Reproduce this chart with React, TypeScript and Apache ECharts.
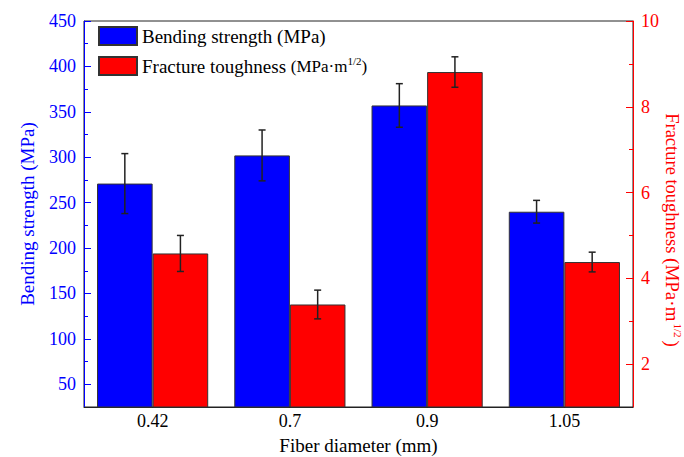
import React, { useEffect, useRef } from "react";
import * as echarts from "echarts";

const categories = ["0.42", "0.7", "0.9", "1.05"];
const bendingStrength = [271, 302, 357, 240];
const bendingError = [33, 28, 24, 12.5];
const fractureToughness = [4.58, 3.39, 8.81, 4.38];
const toughnessError = [0.42, 0.335, 0.355, 0.23];
const leftTicks = [50, 100, 150, 200, 250, 300, 350, 400, 450];
const leftMinorTicks = [75, 125, 175, 225, 275, 325, 375, 425];
const rightTicks = [2, 4, 6, 8, 10];
const rightMinorTicks = [3, 5, 7, 9];

const FONT = "'Liberation Serif', 'Times New Roman', serif";
const BLUE = "#0000ff";
const RED = "#ff0000";
const GAP = 0.19;

function errorRender(side: number) {
  return (params: any, api: any) => {
    const x = api.value(0);
    const lo = api.coord([x, api.value(1)]);
    const hi = api.coord([x, api.value(2)]);
    const band = api.size([1, 0])[0];
    const barW = (band * (1 - GAP)) / 2;
    const cx = lo[0] + (side * barW) / 2;
    const cap = 3.5;
    const style = { stroke: "#222", lineWidth: 1.5 };
    return {
      type: "group",
      children: [
        { type: "line", shape: { x1: cx, y1: lo[1], x2: cx, y2: hi[1] }, style },
        { type: "line", shape: { x1: cx - cap, y1: lo[1], x2: cx + cap, y2: lo[1] }, style },
        { type: "line", shape: { x1: cx - cap, y1: hi[1], x2: cx + cap, y2: hi[1] }, style },
      ],
    };
  };
}

const supRich = {
  t: { fontFamily: FONT, fontSize: 19, lineHeight: 22 },
  p: { fontFamily: FONT, fontSize: 17, lineHeight: 22 },
  s: { fontFamily: FONT, fontSize: 11, lineHeight: 11, verticalAlign: "top" },
};

const nameRich = {
  t: { fontFamily: FONT, fontSize: 18.5, lineHeight: 22, color: RED },
  p: { fontFamily: FONT, fontSize: 19, lineHeight: 22, color: RED },
  s: { fontFamily: FONT, fontSize: 11, lineHeight: 11, verticalAlign: "top", color: RED, padding: [0, 3, 0, 2] },
};

export default function App() {
  const ref = useRef<HTMLDivElement>(null);
  useEffect(() => {
    if (!ref.current) return;
    const chart = echarts.init(ref.current, null, { renderer: "svg" });
    const minorAxis = (pos: string, min: number, max: number, interval: number, vals: number[], color: string) => ({
      type: "value",
      position: pos,
      offset: 0,
      min,
      max,
      interval,
      axisLine: { show: false },
      axisLabel: { show: false },
      splitLine: { show: false },
      axisTick: { show: true, inside: true, length: 4, customValues: vals, lineStyle: { color, width: 1 } },
    });
    const labelRich = (color: string) => ({
      fontFamily: FONT,
      fontSize: 18,
      color,
      rich: { n: { fontFamily: FONT, fontSize: 18, color } },
    });
    chart.setOption({
      animation: false,
      backgroundColor: "#ffffff",
      textStyle: { fontFamily: FONT },
      grid: {
        left: 84,
        right: 51,
        top: 21,
        bottom: 50,
        outerBoundsMode: "none",
        containLabel: false,
        show: true,
        borderColor: "#222",
        borderWidth: 1,
        backgroundColor: "transparent",
      },
      legend: {
        orient: "vertical",
        left: 98,
        top: 26,
        padding: 0,
        itemWidth: 38,
        itemHeight: 18,
        itemGap: 9,
        icon: "rect",
        textStyle: { fontFamily: FONT, fontSize: 19, color: "#000", rich: supRich },
        formatter: (name: string) =>
          name === "Fracture toughness" ? "{t|Fracture toughness }{p|(MPa·m}{s|1/2}{p|)}" : "{t|" + name + "}",
        data: ["Bending strength (MPa)", "Fracture toughness"],
      },
      xAxis: {
        type: "category",
        data: categories,
        name: "Fiber diameter (mm)",
        nameLocation: "middle",
        nameGap: 29,
        nameTextStyle: { fontFamily: FONT, fontSize: 19, color: "#000" },
        axisLine: { lineStyle: { color: "#222", width: 1 } },
        axisTick: { show: false },
        axisLabel: { ...labelRich("#000"), margin: 5, formatter: (v: string) => "{n|" + v + "}" },
      },
      yAxis: [
        {
          type: "value",
          position: "left",
          offset: 0,
          min: 25,
          max: 450,
          interval: 25,
          name: "Bending strength (MPa)",
          nameLocation: "middle",
          nameGap: 47,
          nameTextStyle: { fontFamily: FONT, fontSize: 19, color: BLUE },
          axisLine: { show: true, lineStyle: { color: BLUE, width: 1 } },
          axisTick: { show: true, inside: true, length: 7, customValues: leftTicks, lineStyle: { color: BLUE } },
          axisLabel: {
            ...labelRich(BLUE),
            margin: 8,
            customValues: leftTicks,
            formatter: (v: number) => "{n|" + v + "}",
          },
          splitLine: { show: false },
        },
        {
          type: "value",
          position: "right",
          offset: 0,
          min: 1,
          max: 10,
          interval: 1,
          name: "{t|Fracture toughness }{p|(MPa·m}{s|1/2}{p|)}",
          nameLocation: "middle",
          nameRotate: -90,
          nameGap: 28,
          nameMoveOverlap: false,
          nameTextStyle: { fontFamily: FONT, fontSize: 19, color: RED, rich: nameRich, padding: [0, 0, 0, 32] },
          axisLine: { show: true, lineStyle: { color: RED, width: 1 } },
          axisTick: { show: true, inside: true, length: 7, customValues: rightTicks, lineStyle: { color: RED } },
          axisLabel: {
            ...labelRich(RED),
            margin: 8,
            customValues: rightTicks,
            formatter: (v: number) => "{n|" + v + "}",
          },
          splitLine: { show: false },
        },
        minorAxis("left", 25, 450, 25, leftMinorTicks, BLUE),
        minorAxis("right", 1, 10, 1, rightMinorTicks, RED),
      ],
      series: [
        {
          name: "Bending strength (MPa)",
          type: "bar",
          yAxisIndex: 0,
          data: bendingStrength,
          barGap: "0%",
          barCategoryGap: GAP * 100 + "%",
          itemStyle: { color: BLUE, borderColor: "#333", borderWidth: 1 },
        },
        {
          name: "Fracture toughness",
          type: "bar",
          yAxisIndex: 1,
          data: fractureToughness,
          barGap: "0%",
          barCategoryGap: GAP * 100 + "%",
          itemStyle: { color: RED, borderColor: "#333", borderWidth: 1 },
        },
        {
          type: "custom",
          yAxisIndex: 0,
          z: 10,
          renderItem: errorRender(-1),
          encode: { x: 0, y: [1, 2] },
          data: bendingStrength.map((v, i) => [i, v - bendingError[i], v + bendingError[i]]),
        },
        {
          type: "custom",
          yAxisIndex: 1,
          z: 10,
          renderItem: errorRender(1),
          encode: { x: 0, y: [1, 2] },
          data: fractureToughness.map((v, i) => [i, v - toughnessError[i], v + toughnessError[i]]),
        },
      ],
    });
    return () => chart.dispose();
  }, []);
  return <div ref={ref} style={{ width: 684, height: 457, position: "absolute", left: 0, top: 0 }} />;
}
